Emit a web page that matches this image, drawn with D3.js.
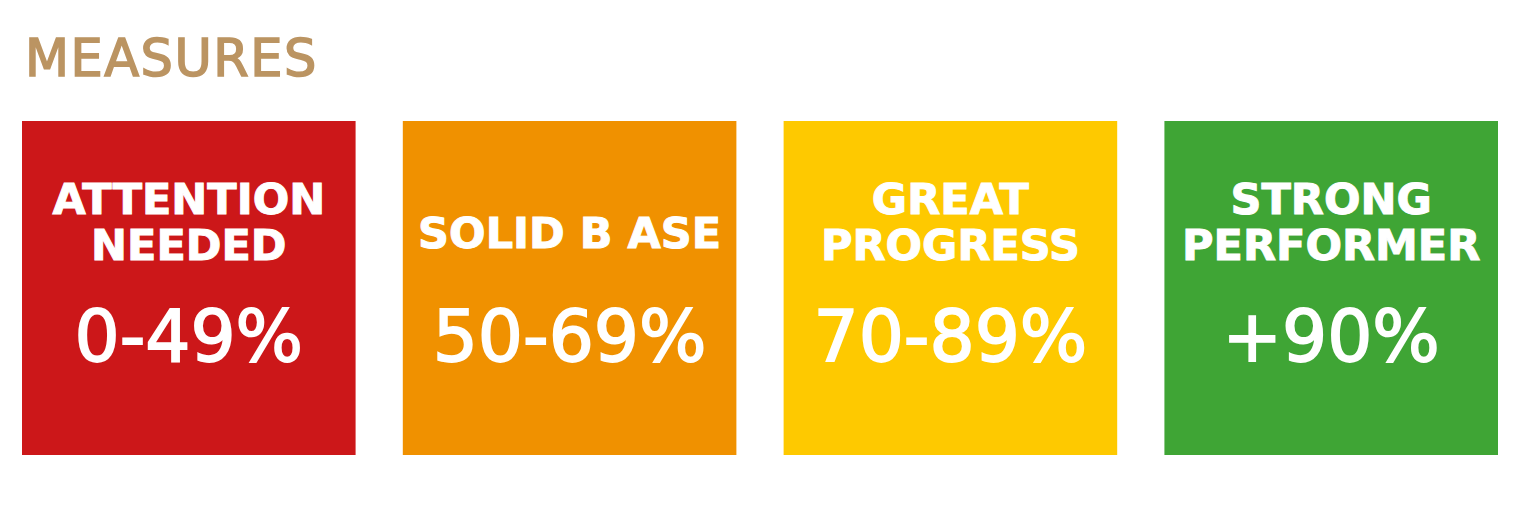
<!DOCTYPE html>
<html>
<head>
<meta charset="utf-8">
<script src="https://cdn.jsdelivr.net/npm/d3@7"></script>
<style>
  html, body { margin: 0; padding: 0; background: #fff; }
  svg { display: block; }
</style>
</head>
<body>
<svg id="chart" width="1520" height="511"></svg>
<script>
/* global d3 */
const title = 'MEASURES'
const categories = ['attention', 'solid', 'great', 'strong']
const labels = [['ATTENTION', 'NEEDED'], ['SOLID B ASE'], ['GREAT', 'PROGRESS'], ['STRONG', 'PERFORMER']]
const ranges = ['0-49%', '50-69%', '70-89%', '+90%']
const colors = ['#cc1719', '#f09100', '#fec900', '#3fa535']

const svg = d3.select('#chart')
const font = '"DejaVu Sans", sans-serif'

// title is a medium weight, so thicken the book face a bit
svg.append('text')
  .text(title)
  .attr('x', 25)
  .attr('y', 76)
  .style('fill', '#bb9462')
  .style('stroke', '#bb9462')
  .style('stroke-width', 1.6)
  .style('font-family', font)
  .style('font-size', '51px')
  .style('letter-spacing', '1.5px')

const x = d3.scaleBand()
  .domain(categories)
  .range([22, 1498])
  .paddingInner(0.124)

const y = d3.scaleLinear()
  .domain([0, 1])
  .range([455, 121])

const boxes = svg.selectAll('g.box')
  .data(categories)
  .join('g')
  .attr('class', 'box')
  .attr('transform', d => 'translate(' + x(d) + ',0)')

boxes.append('rect')
  .attr('y', y(1))
  .attr('width', x.bandwidth())
  .attr('height', y(0) - y(1))
  .style('fill', (d, i) => colors[i])

// label lines, one or two
boxes.each(function (d, i) {
  const g = d3.select(this)
  const lines = labels[i]
  const first = lines.length === 1 ? 248 : 214
  lines.forEach((l, j) => {
    g.append('text')
      .text(l)
      .attr('x', x.bandwidth() / 2)
      .attr('y', first + j * 46)
      .attr('text-anchor', 'middle')
      .style('fill', '#fff')
      .style('stroke', '#fff')
      .style('stroke-width', 1)
      .style('font-family', font)
      .style('font-size', '43px')
      .style('font-weight', 'bold')
  })
})

boxes.append('text')
  .text((d, i) => ranges[i])
  .attr('x', x.bandwidth() / 2)
  .attr('y', 361)
  .attr('text-anchor', 'middle')
  .style('fill', '#fff')
  .style('stroke', '#fff')
  .style('stroke-width', 1.8)
  .style('font-family', font)
  .style('font-size', '71px')
</script>
</body>
</html>
